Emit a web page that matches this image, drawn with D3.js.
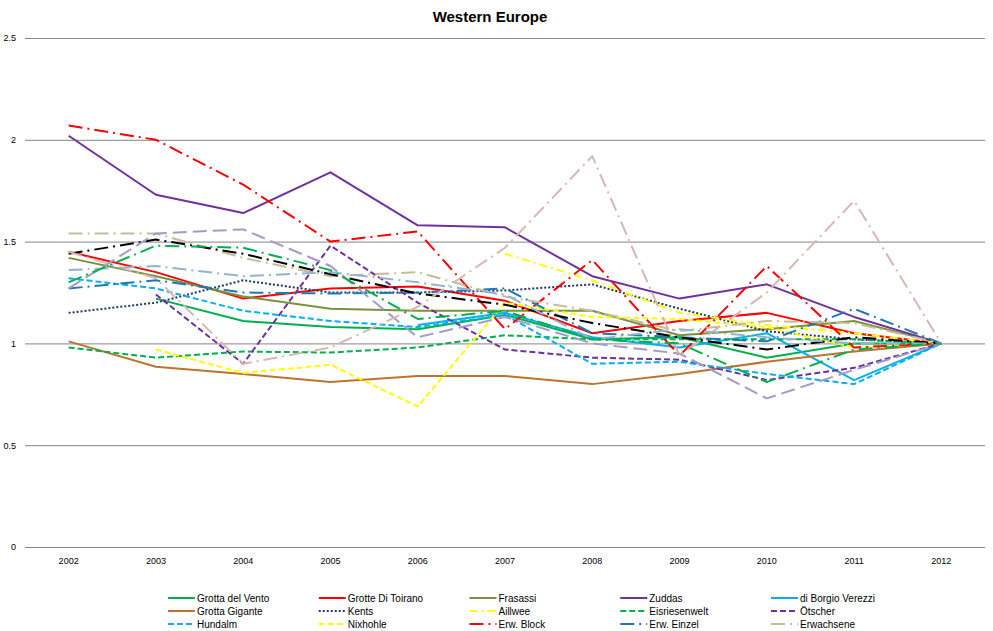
<!DOCTYPE html>
<html>
<head>
<meta charset="utf-8">
<script src="https://cdn.jsdelivr.net/npm/d3@7"></script>
<style>
  body { margin: 0; background: #fff; }
  svg { display: block; }
  text { font-family: "Liberation Sans Narrow", "Arial Narrow", "Liberation Sans", Arial, sans-serif; }
</style>
</head>
<body>
<svg id="chart" width="993" height="631"></svg>
<script>
// ---------- data ----------
const years = ["2002","2003","2004","2005","2006","2007","2008","2009","2010","2011","2012"];
const yTicks = [0, 0.5, 1, 1.5, 2, 2.5];

const grottaDelVento   = [null, 1.22, 1.11, 1.08, 1.07, 1.14, 1.02, 1.03, 0.93, 1.00, 1.00];
const grotteDiToirano  = [1.45, 1.35, 1.22, 1.27, 1.28, 1.21, 1.05, 1.11, 1.15, 1.05, 1.00];
const frasassi         = [1.42, 1.33, 1.23, 1.17, 1.16, 1.16, 1.16, 1.04, 1.07, 1.11, 1.00];
const zuddas           = [2.02, 1.73, 1.64, 1.84, 1.58, 1.57, 1.33, 1.22, 1.29, 1.13, 1.00];
const borgioVerezzi    = [null, null, null, null, 1.09, 1.15, 1.03, 0.98, 1.05, 0.82, 1.00];
const grottaGigante    = [1.01, 0.885, 0.85, 0.81, 0.84, 0.84, 0.80, 0.85, 0.91, 0.96, 1.00];
const kents            = [1.15, 1.20, 1.31, 1.25, 1.25, 1.26, 1.29, 1.17, 1.06, 1.02, 1.00];
const aillwee          = [null, null, null, null, null, 1.44, 1.31, 1.15, 1.09, 1.05, 1.00];
const eisriesenwelt    = [0.98, 0.93, 0.96, 0.955, 0.98, 1.04, 1.02, 1.02, 1.02, 1.02, 1.00];
const oetscher         = [null, 1.24, 0.90, 1.48, 1.20, 0.97, 0.93, 0.92, 0.82, 0.88, 1.00];
const hundalm          = [1.32, 1.27, 1.16, 1.11, 1.08, 1.14, 0.90, 0.91, 0.85, 0.80, 1.00];
const nixhohle         = [null, 0.97, 0.855, 0.895, 0.69, 1.20, 1.13, 1.12, 1.08, 0.98, 1.00];
const erwBlock         = [2.07, 2.00, 1.78, 1.50, 1.55, 1.07, 1.41, 0.94, 1.38, 0.98, 1.00];
const erwEinzel        = [1.27, 1.31, 1.25, 1.245, 1.25, 1.27, 1.05, 1.03, 1.01, 1.17, 1.00];
const erwachsene       = [1.54, 1.54, 1.42, 1.33, 1.35, 1.23, 1.16, 1.06, 1.11, 1.10, 1.00];
// further series drawn in the plot but not listed in the legend
const extraBlack       = [1.44, 1.51, 1.44, 1.34, 1.245, 1.19, 1.10, 1.03, 0.97, 1.03, 1.00];
const extraLavender    = [1.27, 1.54, 1.56, 1.38, 1.03, 1.13, 1.00, 0.95, 0.73, 0.87, 1.00];
const extraPink        = [1.45, 1.32, 0.90, 0.98, 1.18, 1.47, 1.92, 0.94, 1.25, 1.70, 1.00];
const extraSteel       = [1.36, 1.38, 1.33, 1.35, 1.30, 1.24, 1.02, 1.07, 1.03, 1.00, 1.00];
const extraGreen       = [1.30, 1.48, 1.47, 1.36, 1.12, 1.16, 1.02, 1.00, 0.81, 0.97, 1.00];

const SOLID = null, DOT = "2,2", DASH = "6,3", DASHDOT = "8,4,2,4", LDASHDOT = "14,5,2,5", LDASH = "14,6";

const series = [
  {name: "Grotta del Vento",   values: grottaDelVento,  color: "#00B050", dash: SOLID,    legend: true},
  {name: "Grotte Di Toirano",  values: grotteDiToirano, color: "#FF0000", dash: SOLID,    legend: true},
  {name: "Frasassi",           values: frasassi,        color: "#77933C", dash: SOLID,    legend: true},
  {name: "Zuddas",             values: zuddas,          color: "#7030A0", dash: SOLID,    legend: true},
  {name: "di Borgio Verezzi",  values: borgioVerezzi,   color: "#00B0F0", dash: SOLID,    legend: true},
  {name: "Grotta Gigante",     values: grottaGigante,   color: "#C0722F", dash: SOLID,    legend: true},
  {name: "Kents",              values: kents,           color: "#1F3864", dash: DOT,      legend: true},
  {name: "Aillwee",            values: aillwee,         color: "#FFFF00", dash: DASHDOT,  legend: true},
  {name: "Eisriesenwelt",      values: eisriesenwelt,   color: "#00B050", dash: DASH,     legend: true},
  {name: "Ötscher",            values: oetscher,        color: "#7030A0", dash: DASH,     legend: true},
  {name: "Hundalm",            values: hundalm,         color: "#00B0F0", dash: DASH,     legend: true},
  {name: "Nixhohle",           values: nixhohle,        color: "#FFFF00", dash: DASH,     legend: true},
  {name: "Erw. Block",         values: erwBlock,        color: "#FF0000", dash: LDASHDOT, legend: true},
  {name: "Erw. Einzel",        values: erwEinzel,       color: "#1F77B4", dash: LDASHDOT, legend: true},
  {name: "Erwachsene",         values: erwachsene,      color: "#C4BD97", dash: LDASHDOT, legend: true},
  {name: "S16", values: extraBlack,    color: "#000000", dash: LDASHDOT, legend: false},
  {name: "S17", values: extraLavender, color: "#A49BC8", dash: LDASH,    legend: false},
  {name: "S18", values: extraPink,     color: "#D8B7B3", dash: LDASHDOT, legend: false},
  {name: "S19", values: extraSteel,    color: "#93B3D2", dash: LDASHDOT, legend: false},
  {name: "S20", values: extraGreen,    color: "#00B050", dash: LDASHDOT, legend: false}
];

// ---------- layout ----------
const svg = d3.select("#chart");
const plot = {left: 25, right: 985, top: 38, bottom: 547};

const x = d3.scaleBand().domain(years).range([plot.left, plot.right]).padding(0);
const y = d3.scaleLinear().domain([0, 2.5]).range([plot.bottom, plot.top]);

// title
svg.append("text")
  .attr("x", 490).attr("y", 22)
  .attr("text-anchor", "middle")
  .style("font-family", "'Liberation Sans', Arial, sans-serif")
  .style("font-weight", "bold").style("font-size", "15px")
  .text("Western Europe");

// gridlines + y labels
const yAxis = d3.axisLeft(y).tickValues(yTicks)
  .tickSize(-(plot.right - plot.left)).tickPadding(9)
  .tickFormat(d => d3.format("")(d));
const gy = svg.append("g").attr("transform", `translate(${plot.left},0)`).call(yAxis);
gy.select(".domain").remove();
gy.selectAll(".tick line").attr("stroke", "#868686").attr("stroke-width", 1);
gy.selectAll(".tick text").style("font-size", "9px").attr("fill", "#000");

// x labels
const xAxis = d3.axisBottom(x).tickSize(0).tickPadding(11);
const gx = svg.append("g").attr("transform", `translate(0,${plot.bottom})`).call(xAxis);
gx.select(".domain").remove();
gx.selectAll(".tick text").style("font-size", "9px").attr("fill", "#000");

// lines
const line = d3.line()
  .defined(d => d.v != null)
  .x(d => x(d.year) + x.bandwidth() / 2)
  .y(d => y(d.v));

const gLines = svg.append("g");
series.forEach(s => {
  const pts = years.map((yr, i) => ({year: yr, v: s.values[i]}));
  gLines.append("path")
    .datum(pts)
    .attr("fill", "none")
    .attr("stroke", s.color)
    .attr("stroke-width", 2)
    .attr("stroke-dasharray", s.dash)
    .attr("stroke-linejoin", "round")
    .attr("d", line);
});

// legend
const legendItems = series.filter(s => s.legend);
const colX = d3.scalePoint().domain(d3.range(5)).range([168, 771]);
const rowY = d3.scalePoint().domain(d3.range(3)).range([598, 624]);
const gL = svg.append("g");
legendItems.forEach((s, i) => {
  const cx = colX(i % 5), cy = rowY(Math.floor(i / 5));
  gL.append("line")
    .attr("x1", cx).attr("x2", cx + 27).attr("y1", cy).attr("y2", cy)
    .attr("stroke", s.color).attr("stroke-width", 2)
    .attr("stroke-dasharray", s.dash);
  gL.append("text")
    .attr("x", cx + 29).attr("y", cy + 3.5)
    .style("font-size", "10px").attr("fill", "#000")
    .text(s.name);
});
</script>
</body>
</html>
